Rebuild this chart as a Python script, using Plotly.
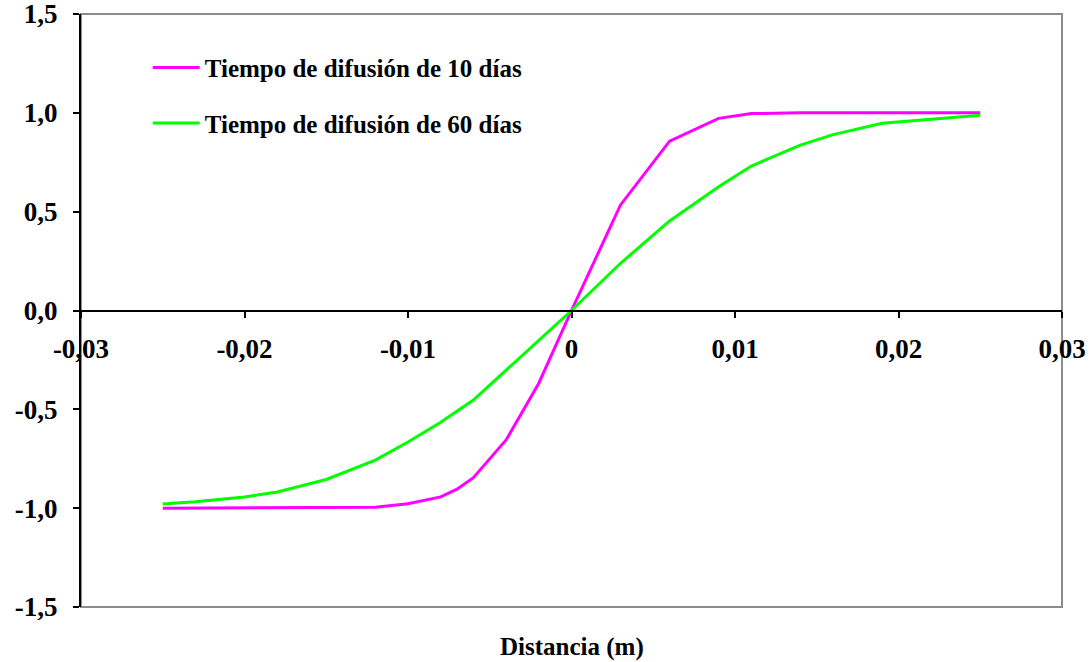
import plotly.graph_objects as go

# Concentration profiles vs distance
x_10 = [-0.025, -0.012, -0.010, -0.008, -0.007, -0.006, -0.004, -0.002, 0.0,
        0.003, 0.006, 0.009, 0.011, 0.014, 0.025]
y_10 = [-1.0, -0.995, -0.978, -0.943, -0.904, -0.846, -0.655, -0.368, 0.0,
        0.534, 0.857, 0.972, 0.996, 1.0, 1.0]

x_60 = [-0.025, -0.023, -0.020, -0.018, -0.015, -0.012, -0.010, -0.008, -0.006,
        -0.004, -0.002, 0.0, 0.003, 0.006, 0.009, 0.011, 0.014, 0.016, 0.019, 0.025]
y_60 = [-0.979, -0.968, -0.943, -0.918, -0.855, -0.757, -0.665, -0.565, -0.453,
        -0.301, -0.152, 0.0, 0.239, 0.453, 0.626, 0.731, 0.837, 0.89, 0.947, 0.988]

name_10 = "Tiempo de difusión de 10 días"
name_60 = "Tiempo de difusión de 60 días"

x_ticks = [-0.03, -0.02, -0.01, 0.0, 0.01, 0.02, 0.03]
x_ticktext = ["-0,03", "-0,02", "-0,01", "0", "0,01", "0,02", "0,03"]
y_ticks = [-1.5, -1.0, -0.5, 0.0, 0.5, 1.0, 1.5]
y_ticktext = ["-1,5", "-1,0", "-0,5", "0,0", "0,5", "1,0", "1,5"]

FONT = "Liberation Serif"

fig = go.Figure()
fig.add_trace(go.Scatter(x=x_10, y=y_10, mode="lines", name=name_10,
                         legendgroup="a",
                         line=dict(color="#FF00FF", width=3)))
fig.add_trace(go.Scatter(x=x_60, y=y_60, mode="lines", name=name_60,
                         legendgroup="b",
                         line=dict(color="#00FF00", width=3)))

fig.update_layout(
    width=1090, height=662,
    margin=dict(l=81, r=28, t=14, b=55),
    paper_bgcolor="white", plot_bgcolor="white",
    font=dict(family=FONT, color="black"),
    showlegend=True,
    legend=dict(x=0.068, y=0.948, xanchor="left", yanchor="top",
                bgcolor="rgba(0,0,0,0)",
                font=dict(family=FONT, size=25, color="black", weight="bold"),
                tracegroupgap=20, itemwidth=47),
    xaxis=dict(range=[-0.03, 0.03], tickvals=x_ticks, ticktext=x_ticktext,
               showgrid=False, zeroline=False, automargin=False,
               showline=True, linecolor="black", linewidth=2,
               ticks="outside", ticklen=6, tickwidth=2, tickcolor="black",
               anchor="free", position=0.5,
               ticklabelstandoff=8, ticklabeloverflow="allow",
               tickfont=dict(family=FONT, size=27, color="black", weight="bold")),
    yaxis=dict(range=[-1.5, 1.5], tickvals=y_ticks, ticktext=y_ticktext,
               showgrid=False, zeroline=False, automargin=False,
               showline=True, linecolor="black", linewidth=2,
               ticks="outside", ticklen=6, tickwidth=2, tickcolor="black",
               ticklabelstandoff=10, ticklabeloverflow="allow",
               tickfont=dict(family=FONT, size=27, color="black", weight="bold")),
    shapes=[dict(type="rect", xref="paper", yref="paper", x0=0, x1=1, y0=0, y1=1,
                 line=dict(color="#8c8c8c", width=2), layer="below")],
    annotations=[dict(text="Distancia (m)", xref="paper", yref="paper",
                      x=0.5, y=-0.068, xanchor="center", yanchor="middle",
                      showarrow=False,
                      font=dict(family=FONT, size=25, color="black", weight="bold"))],
)

fig.write_html("out.html")
